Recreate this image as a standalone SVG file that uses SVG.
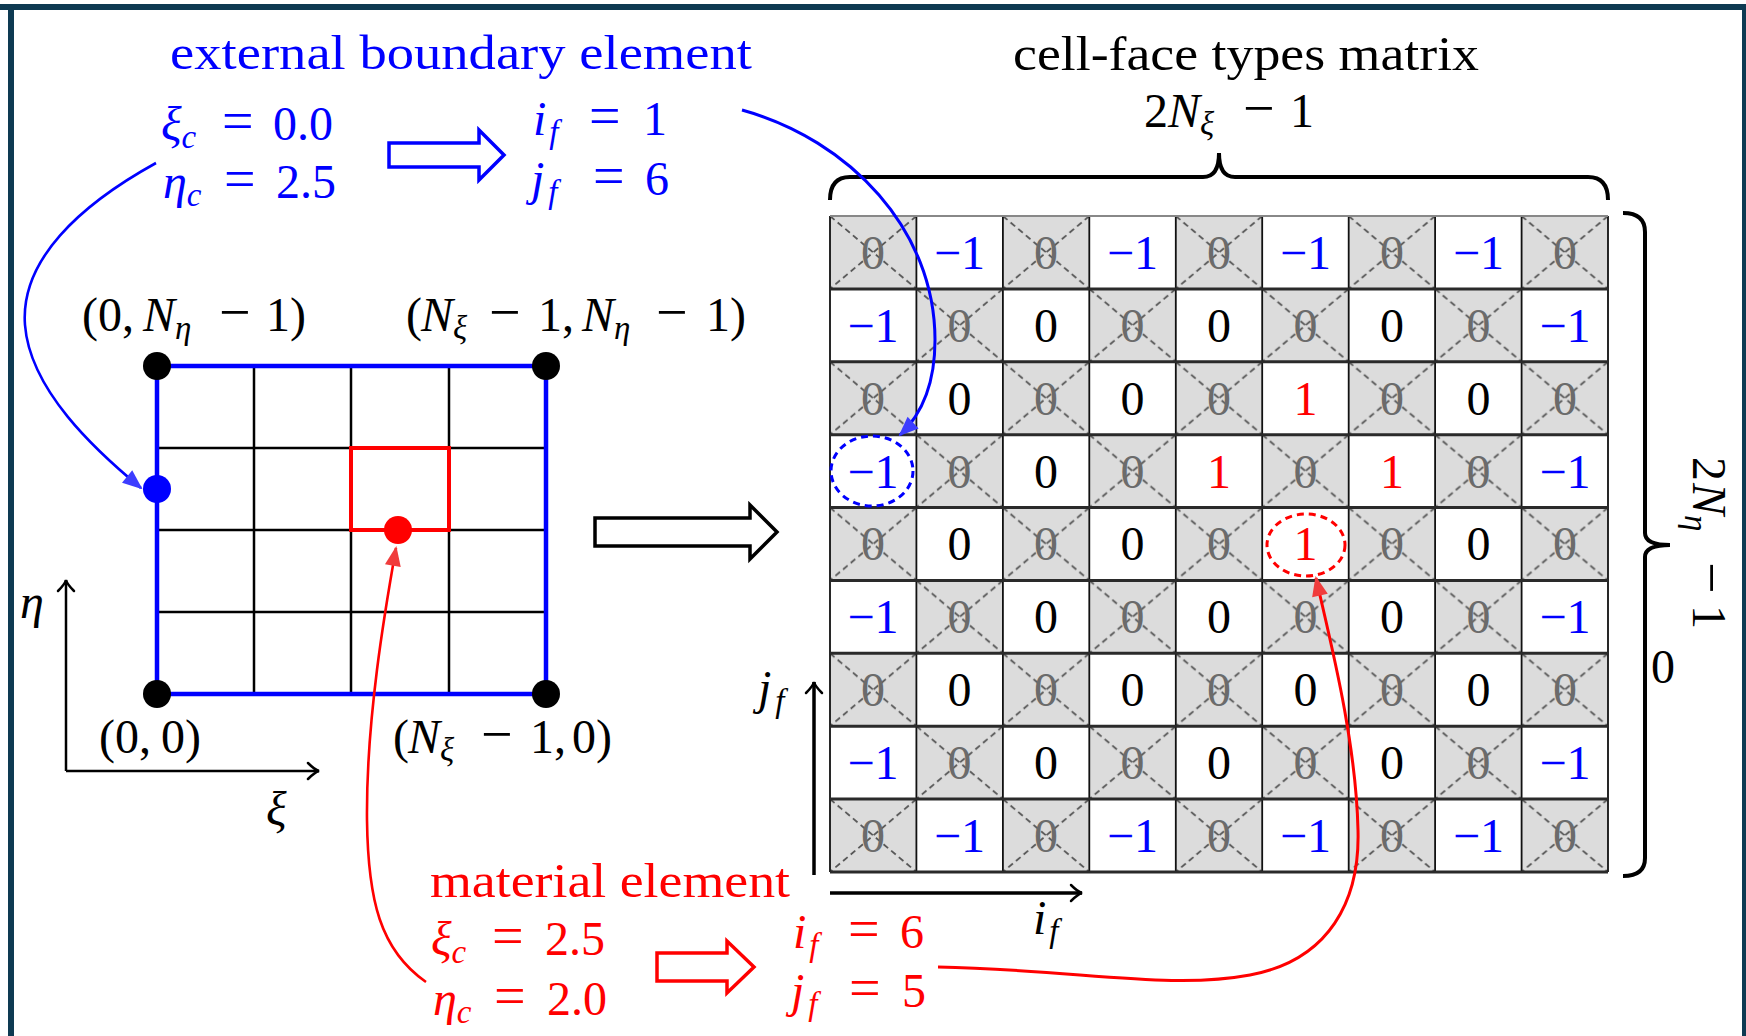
<svg xmlns="http://www.w3.org/2000/svg" width="1746" height="1036" viewBox="0 0 1746 1036">
<style>
text { font-family: "Liberation Serif", "Times New Roman", serif; }
.t { font-size: 48px; }
.i { font-style: italic; }
.s { font-size: 33px; font-style: italic; }
.o { font-size: 56px; }
.b { fill: #0000ff; }
.r { fill: #ff0000; }
.k { fill: #000000; }
.c { font-size: 48px; text-anchor: middle; }
.g { fill: #6b6b6b; }
.ln { fill: none; stroke: #000; stroke-width: 2.5; }
</style>
<defs>
<pattern id="chk" x="830" y="216" width="172.888" height="145.778" patternUnits="userSpaceOnUse">
<rect x="0" y="0" width="86.444" height="72.889" fill="#dcdcdc"/>
<rect x="86.444" y="72.889" width="86.444" height="72.889" fill="#dcdcdc"/>
<path d="M0,0L86.444,72.889M86.444,0L0,72.889M86.444,72.889L172.888,145.778M172.888,72.889L86.444,145.778" stroke="#555" stroke-width="1.8" stroke-dasharray="6 4" fill="none"/>
</pattern>
<marker id="open" markerUnits="userSpaceOnUse" orient="auto" overflow="visible" markerWidth="20" markerHeight="20">
<path d="M-11,-8 Q-4,-1 0,0 Q-4,1 -11,8" fill="none" stroke="#000" stroke-width="2.5" stroke-linecap="round"/>
</marker>
<marker id="ab" markerUnits="userSpaceOnUse" orient="auto" overflow="visible" markerWidth="20" markerHeight="20">
<path d="M2,0 L-18,-8 L-18,8 Z" fill="#3d3dff"/>
</marker>
<marker id="ar" markerUnits="userSpaceOnUse" orient="auto" overflow="visible" markerWidth="20" markerHeight="20">
<path d="M2,0 L-18,-8 L-18,8 Z" fill="#f03c3c"/>
</marker>
</defs>

<rect x="0" y="0" width="1746" height="1036" fill="#ffffff"/>
<g id="frame">
<rect x="0" y="4" width="1746" height="6" fill="#0e3a52"/>
<rect x="8" y="4" width="6" height="1032" fill="#0e3a52"/>
<rect x="1742" y="4" width="4" height="1032" fill="#0e3a52"/>
</g>

<g id="mesh">
<path d="M254,366V694M351,366V694M449,366V694M157,448H546M157,530H546M157,612H546" stroke="#000" stroke-width="2.5" fill="none"/>
<rect x="157" y="366" width="389" height="328" fill="none" stroke="#0000ff" stroke-width="4.5"/>
<rect x="351" y="448" width="98" height="82" fill="none" stroke="#ff0000" stroke-width="4"/>
<circle cx="157" cy="366" r="14" fill="#000"/>
<circle cx="546" cy="366" r="14" fill="#000"/>
<circle cx="157" cy="694" r="14" fill="#000"/>
<circle cx="546" cy="694" r="14" fill="#000"/>
<circle cx="157" cy="489" r="14" fill="#0000ff"/>
<circle cx="398" cy="530" r="14" fill="#ff0000"/>
<text class="t k" y="331"><tspan x="82">(0,</tspan><tspan x="143" class="i">N</tspan><tspan class="s" dy="8">η</tspan><tspan x="219" dy="-8" class="o">−</tspan><tspan x="266">1)</tspan></text>
<text class="t k" y="331"><tspan x="406">(</tspan><tspan x="421" class="i">N</tspan><tspan class="s" dy="8">ξ</tspan><tspan x="489" dy="-8" class="o">−</tspan><tspan x="538">1,</tspan><tspan x="582" class="i">N</tspan><tspan class="s" dy="8">η</tspan><tspan x="656" dy="-8" class="o">−</tspan><tspan x="706">1)</tspan></text>
<text class="t k" y="753"><tspan x="99">(0,</tspan><tspan x="161">0)</tspan></text>
<text class="t k" y="753"><tspan x="393">(</tspan><tspan x="408" class="i">N</tspan><tspan class="s" dy="8">ξ</tspan><tspan x="481" dy="-8" class="o">−</tspan><tspan x="530">1,</tspan><tspan x="572">0)</tspan></text>
</g>

<g id="axes-mesh">
<path class="ln" d="M66,771V580" marker-end="url(#open)"/>
<path class="ln" d="M66,771H319" marker-end="url(#open)"/>
<text class="t k i" x="20" y="618">η</text>
<text class="t k i" x="266" y="825">ξ</text>
</g>

<g id="big-arrow">
<polygon points="595,518 750,518 750,505 777,532 750,559 750,546 595,546" fill="#fff" stroke="#000" stroke-width="3.5" stroke-linejoin="miter"/>
</g>

<g id="boundary-element">
<text class="t b" x="170" y="69" textLength="582" lengthAdjust="spacingAndGlyphs">external boundary element</text>
<text class="t b" y="140"><tspan x="161" class="i">ξ</tspan><tspan class="s" dy="8">c</tspan><tspan x="222" dy="-8" class="o">=</tspan><tspan x="273">0.0</tspan></text>
<text class="t b" y="198"><tspan x="163" class="i">η</tspan><tspan class="s" dy="8">c</tspan><tspan x="224" dy="-8" class="o">=</tspan><tspan x="276">2.5</tspan></text>
<polygon points="389,143 479,143 479,130 504,155 479,180 479,167 389,167" fill="#fff" stroke="#0000ff" stroke-width="3.5"/>
<text class="t b" y="135"><tspan x="533" class="i">i</tspan><tspan class="s" dx="3" dy="8">f</tspan><tspan x="589" dy="-8" class="o">=</tspan><tspan x="643">1</tspan></text>
<text class="t b" y="195"><tspan x="531" class="i">j</tspan><tspan class="s" dx="4" dy="8">f</tspan><tspan x="593" dy="-8" class="o">=</tspan><tspan x="645">6</tspan></text>
</g>

<g id="material-element">
<text class="t r" x="430" y="897" textLength="360" lengthAdjust="spacingAndGlyphs">material element</text>
<text class="t r" y="955"><tspan x="431" class="i">ξ</tspan><tspan class="s" dy="8">c</tspan><tspan x="492" dy="-8" class="o">=</tspan><tspan x="545">2.5</tspan></text>
<text class="t r" y="1015"><tspan x="433" class="i">η</tspan><tspan class="s" dy="8">c</tspan><tspan x="494" dy="-8" class="o">=</tspan><tspan x="547">2.0</tspan></text>
<polygon points="657,953 727,953 727,941 754,967 727,993 727,981 657,981" fill="#fff" stroke="#ff0000" stroke-width="3.5"/>
<text class="t r" y="948"><tspan x="793" class="i">i</tspan><tspan class="s" dx="3" dy="8">f</tspan><tspan x="848" dy="-8" class="o">=</tspan><tspan x="900">6</tspan></text>
<text class="t r" y="1007"><tspan x="791" class="i">j</tspan><tspan class="s" dx="4" dy="8">f</tspan><tspan x="849" dy="-8" class="o">=</tspan><tspan x="902">5</tspan></text>
</g>

<g id="matrix">
<rect x="830" y="216" width="778" height="656" fill="#fff"/>
<rect x="830" y="216" width="778" height="656" fill="url(#chk)"/>
<path d="M830,216V872M916.4,216V872M1002.9,216V872M1089.3,216V872M1175.8,216V872M1262.2,216V872M1348.7,216V872M1435.1,216V872M1521.6,216V872M1608,216V872" stroke="#111" stroke-width="1.8" fill="none"/>
<path d="M830,288.9H1608M830,361.8H1608M830,434.7H1608M830,507.6H1608M830,580.4H1608M830,653.3H1608M830,726.2H1608M830,799.1H1608M830,872H1608" stroke="#2a2a2a" stroke-width="3" fill="none"/>
<path d="M830,216H1608" stroke="#888" stroke-width="2" fill="none"/>
<!-- row 0 -->
<text class="c g" x="873" y="268.5">0</text><text class="c b" x="959.5" y="268.5">−1</text><text class="c g" x="1046" y="268.5">0</text><text class="c b" x="1132.5" y="268.5">−1</text><text class="c g" x="1219" y="268.5">0</text><text class="c b" x="1305.5" y="268.5">−1</text><text class="c g" x="1392" y="268.5">0</text><text class="c b" x="1478.5" y="268.5">−1</text><text class="c g" x="1565" y="268.5">0</text>
<!-- row 1 -->
<text class="c b" x="873" y="341.5">−1</text><text class="c g" x="959.5" y="341.5">0</text><text class="c k" x="1046" y="341.5">0</text><text class="c g" x="1132.5" y="341.5">0</text><text class="c k" x="1219" y="341.5">0</text><text class="c g" x="1305.5" y="341.5">0</text><text class="c k" x="1392" y="341.5">0</text><text class="c g" x="1478.5" y="341.5">0</text><text class="c b" x="1565" y="341.5">−1</text>
<!-- row 2 -->
<text class="c g" x="873" y="414.5">0</text><text class="c k" x="959.5" y="414.5">0</text><text class="c g" x="1046" y="414.5">0</text><text class="c k" x="1132.5" y="414.5">0</text><text class="c g" x="1219" y="414.5">0</text><text class="c r" x="1305.5" y="414.5">1</text><text class="c g" x="1392" y="414.5">0</text><text class="c k" x="1478.5" y="414.5">0</text><text class="c g" x="1565" y="414.5">0</text>
<!-- row 3 -->
<text class="c b" x="873" y="487.5">−1</text><text class="c g" x="959.5" y="487.5">0</text><text class="c k" x="1046" y="487.5">0</text><text class="c g" x="1132.5" y="487.5">0</text><text class="c r" x="1219" y="487.5">1</text><text class="c g" x="1305.5" y="487.5">0</text><text class="c r" x="1392" y="487.5">1</text><text class="c g" x="1478.5" y="487.5">0</text><text class="c b" x="1565" y="487.5">−1</text>
<!-- row 4 -->
<text class="c g" x="873" y="560">0</text><text class="c k" x="959.5" y="560">0</text><text class="c g" x="1046" y="560">0</text><text class="c k" x="1132.5" y="560">0</text><text class="c g" x="1219" y="560">0</text><text class="c r" x="1305.5" y="560">1</text><text class="c g" x="1392" y="560">0</text><text class="c k" x="1478.5" y="560">0</text><text class="c g" x="1565" y="560">0</text>
<!-- row 5 -->
<text class="c b" x="873" y="632.5">−1</text><text class="c g" x="959.5" y="632.5">0</text><text class="c k" x="1046" y="632.5">0</text><text class="c g" x="1132.5" y="632.5">0</text><text class="c k" x="1219" y="632.5">0</text><text class="c g" x="1305.5" y="632.5">0</text><text class="c k" x="1392" y="632.5">0</text><text class="c g" x="1478.5" y="632.5">0</text><text class="c b" x="1565" y="632.5">−1</text>
<!-- row 6 -->
<text class="c g" x="873" y="705.5">0</text><text class="c k" x="959.5" y="705.5">0</text><text class="c g" x="1046" y="705.5">0</text><text class="c k" x="1132.5" y="705.5">0</text><text class="c g" x="1219" y="705.5">0</text><text class="c k" x="1305.5" y="705.5">0</text><text class="c g" x="1392" y="705.5">0</text><text class="c k" x="1478.5" y="705.5">0</text><text class="c g" x="1565" y="705.5">0</text>
<!-- row 7 -->
<text class="c b" x="873" y="778.5">−1</text><text class="c g" x="959.5" y="778.5">0</text><text class="c k" x="1046" y="778.5">0</text><text class="c g" x="1132.5" y="778.5">0</text><text class="c k" x="1219" y="778.5">0</text><text class="c g" x="1305.5" y="778.5">0</text><text class="c k" x="1392" y="778.5">0</text><text class="c g" x="1478.5" y="778.5">0</text><text class="c b" x="1565" y="778.5">−1</text>
<!-- row 8 -->
<text class="c g" x="873" y="851.5">0</text><text class="c b" x="959.5" y="851.5">−1</text><text class="c g" x="1046" y="851.5">0</text><text class="c b" x="1132.5" y="851.5">−1</text><text class="c g" x="1219" y="851.5">0</text><text class="c b" x="1305.5" y="851.5">−1</text><text class="c g" x="1392" y="851.5">0</text><text class="c b" x="1478.5" y="851.5">−1</text><text class="c g" x="1565" y="851.5">0</text>
<ellipse cx="872" cy="471" rx="41" ry="35" fill="none" stroke="#0000ff" stroke-width="3" stroke-dasharray="7 5"/>
<ellipse cx="1306" cy="545" rx="39" ry="31" fill="none" stroke="#ff0000" stroke-width="3" stroke-dasharray="7 5"/>
</g>

<g id="matrix-labels">
<text class="t k" x="1013" y="70" textLength="466" lengthAdjust="spacingAndGlyphs">cell-face types matrix</text>
<text class="t k" y="127"><tspan x="1144">2</tspan><tspan x="1168" class="i">N</tspan><tspan class="s" dy="8">ξ</tspan><tspan x="1243" dy="-8" class="o">−</tspan><tspan x="1290">1</tspan></text>
<path d="M830,200 Q830,177 850,177 L1203,177 Q1219,177 1219,153 Q1219,177 1235,177 L1588,177 Q1608,177 1608,200" fill="none" stroke="#000" stroke-width="4"/>
<path d="M1623,213 Q1645,213 1645,232 L1645,533 Q1645,545 1670,545 Q1645,545 1645,557 L1645,858 Q1645,876 1623,876" fill="none" stroke="#000" stroke-width="4"/>
<text class="t k" transform="translate(1693,457) rotate(90)" y="0"><tspan x="0">2</tspan><tspan x="26" class="i">N</tspan><tspan class="s" dy="8">η</tspan><tspan x="105" dy="-8" class="o">−</tspan><tspan x="148">1</tspan></text>
<text class="t k" x="1663" y="683" text-anchor="middle">0</text>
<path d="M814,875V682" fill="none" stroke="#000" stroke-width="3.5" marker-end="url(#open)"/>
<path d="M830,893H1082" fill="none" stroke="#000" stroke-width="3.5" marker-end="url(#open)"/>
<text class="t k" y="704"><tspan x="758" class="i">j</tspan><tspan class="s" dx="4" dy="8">f</tspan></text>
<text class="t k" y="934"><tspan x="1033" class="i">i</tspan><tspan class="s" dx="3" dy="8">f</tspan></text>
</g>

<g id="connectors">
<path d="M156,163 C80,205 20,260 25,325 C30,390 95,450 141,488" fill="none" stroke="#0000ff" stroke-width="2.6" marker-end="url(#ab)"/>
<path d="M742,110 C850,140 935,230 935,340 C935,390 918,418 900,435" fill="none" stroke="#0000ff" stroke-width="3" marker-end="url(#ab)"/>
<path d="M426,982 C380,950 368,900 367,820 C366,720 385,610 396,548" fill="none" stroke="#ff0000" stroke-width="2.6" marker-end="url(#ar)"/>
<path d="M938,967 C1080,970 1170,990 1250,975 C1330,960 1360,900 1358,830 C1356,740 1330,640 1316,578" fill="none" stroke="#ff0000" stroke-width="3" marker-end="url(#ar)"/>
</g>
</svg>
